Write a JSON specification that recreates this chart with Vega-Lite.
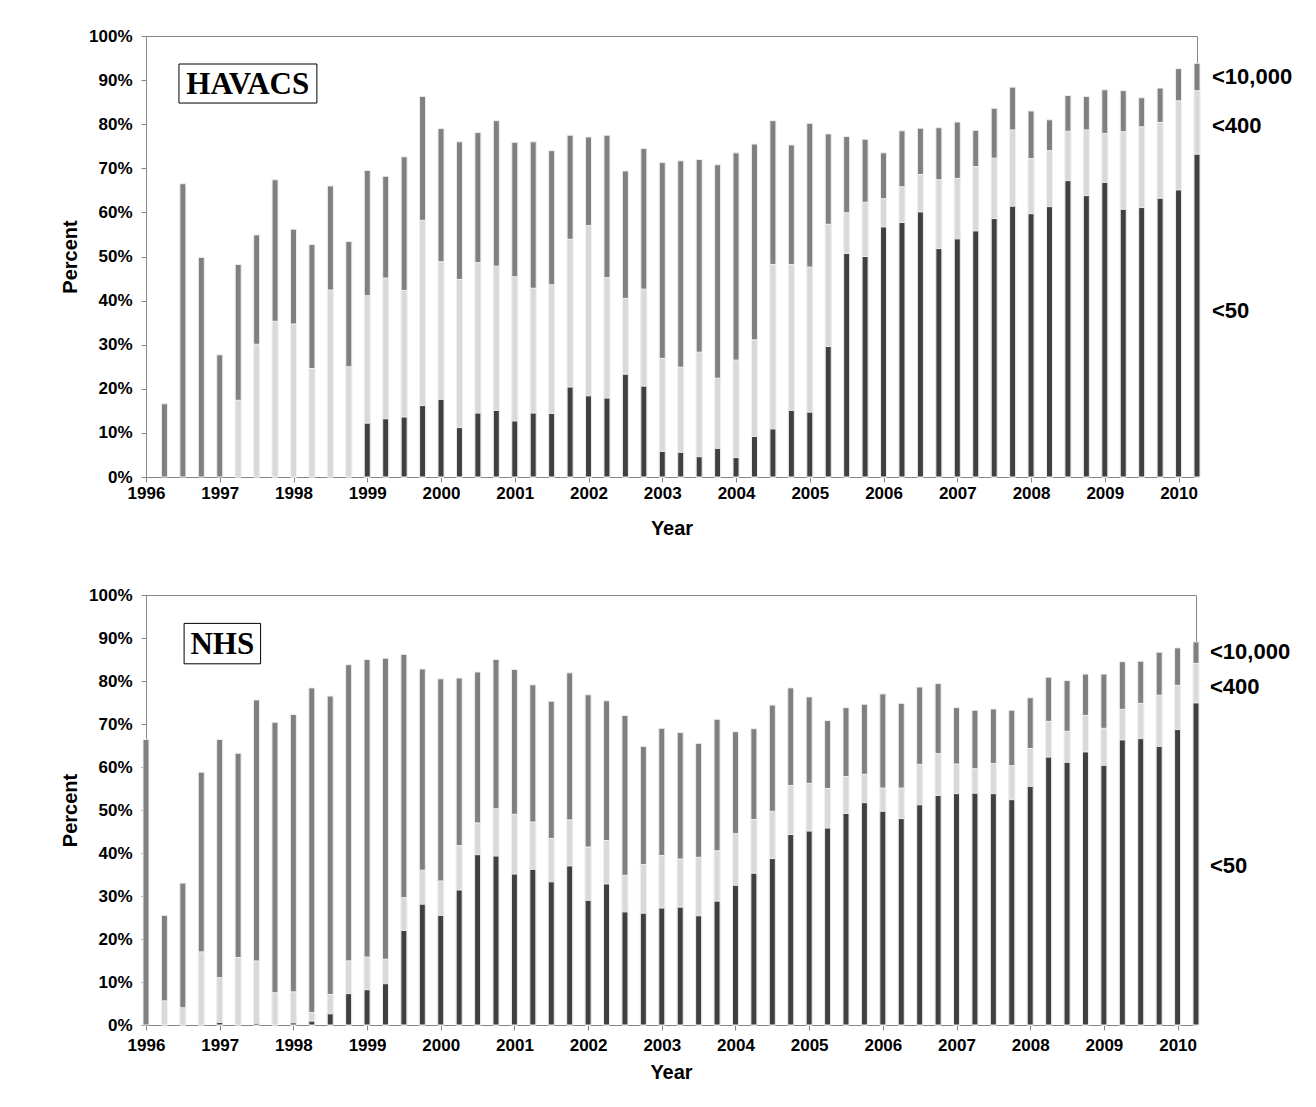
{
  "$schema": "https://vega.github.io/schema/vega-lite/v6.json",
  "background": "white",
  "padding": {"left": 60, "top": 26, "right": 5, "bottom": 5},
  "spacing": 46,
  "config": {
    "font": "Liberation Sans",
    "view": {"stroke": "#868686", "strokeWidth": 1},
    "axis": {
      "grid": false,
      "domainColor": "#868686",
      "tickColor": "#868686",
      "tickSize": 5,
      "labelFont": "Liberation Sans",
      "labelFontWeight": "bold",
      "labelFontSize": 17,
      "labelColor": "#000000",
      "titleFont": "Liberation Sans",
      "titleFontWeight": "bold",
      "titleFontSize": 20,
      "titleColor": "#000000",
      "zindex": 1
    }
  },
  "datasets": {
    "havacs": [
      {"t": 1996.25, "a": null, "b": null, "c": 16.6},
      {"t": 1996.5, "a": null, "b": null, "c": 66.5},
      {"t": 1996.75, "a": null, "b": null, "c": 49.8},
      {"t": 1997.0, "a": null, "b": null, "c": 27.7},
      {"t": 1997.25, "a": null, "b": 17.4, "c": 48.2},
      {"t": 1997.5, "a": null, "b": 30.1, "c": 54.9},
      {"t": 1997.75, "a": null, "b": 35.3, "c": 67.4},
      {"t": 1998.0, "a": null, "b": 34.7, "c": 56.2},
      {"t": 1998.25, "a": null, "b": 24.6, "c": 52.7},
      {"t": 1998.5, "a": null, "b": 42.4, "c": 66.0},
      {"t": 1998.75, "a": null, "b": 25.0, "c": 53.4},
      {"t": 1999.0, "a": 12.2, "b": 41.1, "c": 69.5},
      {"t": 1999.25, "a": 13.2, "b": 45.1, "c": 68.2},
      {"t": 1999.5, "a": 13.6, "b": 42.3, "c": 72.6},
      {"t": 1999.75, "a": 16.2, "b": 58.2, "c": 86.3},
      {"t": 2000.0, "a": 17.6, "b": 48.8, "c": 79.0},
      {"t": 2000.25, "a": 11.2, "b": 44.8, "c": 76.0},
      {"t": 2000.5, "a": 14.5, "b": 48.6, "c": 78.1},
      {"t": 2000.75, "a": 15.1, "b": 47.8, "c": 80.8},
      {"t": 2001.0, "a": 12.7, "b": 45.4, "c": 75.9},
      {"t": 2001.25, "a": 14.5, "b": 42.8, "c": 76.0},
      {"t": 2001.5, "a": 14.4, "b": 43.6, "c": 74.0},
      {"t": 2001.75, "a": 20.4, "b": 53.9, "c": 77.5},
      {"t": 2002.0, "a": 18.4, "b": 57.0, "c": 77.1},
      {"t": 2002.25, "a": 17.9, "b": 45.2, "c": 77.5},
      {"t": 2002.5, "a": 23.3, "b": 40.5, "c": 69.4},
      {"t": 2002.75, "a": 20.6, "b": 42.6, "c": 74.5},
      {"t": 2003.0, "a": 5.8, "b": 26.9, "c": 71.3},
      {"t": 2003.25, "a": 5.6, "b": 24.9, "c": 71.7},
      {"t": 2003.5, "a": 4.6, "b": 28.3, "c": 72.0},
      {"t": 2003.75, "a": 6.5, "b": 22.4, "c": 70.8},
      {"t": 2004.0, "a": 4.4, "b": 26.5, "c": 73.5},
      {"t": 2004.25, "a": 9.2, "b": 31.1, "c": 75.5},
      {"t": 2004.5, "a": 10.9, "b": 48.2, "c": 80.8},
      {"t": 2004.75, "a": 15.1, "b": 48.2, "c": 75.3},
      {"t": 2005.0, "a": 14.7, "b": 47.6, "c": 80.2},
      {"t": 2005.25, "a": 29.6, "b": 57.3, "c": 77.8},
      {"t": 2005.5, "a": 50.7, "b": 59.9, "c": 77.2},
      {"t": 2005.75, "a": 50.0, "b": 62.3, "c": 76.6},
      {"t": 2006.0, "a": 56.7, "b": 63.1, "c": 73.5},
      {"t": 2006.25, "a": 57.7, "b": 65.8, "c": 78.5},
      {"t": 2006.5, "a": 60.1, "b": 68.6, "c": 79.1},
      {"t": 2006.75, "a": 51.8, "b": 67.4, "c": 79.2},
      {"t": 2007.0, "a": 54.0, "b": 67.7, "c": 80.5},
      {"t": 2007.25, "a": 55.8, "b": 70.4, "c": 78.6},
      {"t": 2007.5, "a": 58.6, "b": 72.3, "c": 83.6},
      {"t": 2007.75, "a": 61.4, "b": 78.7, "c": 88.4},
      {"t": 2008.0, "a": 59.7, "b": 72.2, "c": 83.0},
      {"t": 2008.25, "a": 61.3, "b": 74.0, "c": 81.0},
      {"t": 2008.5, "a": 67.2, "b": 78.4, "c": 86.5},
      {"t": 2008.75, "a": 63.8, "b": 78.7, "c": 86.3},
      {"t": 2009.0, "a": 66.8, "b": 77.9, "c": 87.8},
      {"t": 2009.25, "a": 60.7, "b": 78.3, "c": 87.6},
      {"t": 2009.5, "a": 61.1, "b": 79.4, "c": 86.0},
      {"t": 2009.75, "a": 63.2, "b": 80.4, "c": 88.2},
      {"t": 2010.0, "a": 65.1, "b": 85.3, "c": 92.6},
      {"t": 2010.25, "a": 73.2, "b": 87.6, "c": 93.8}
    ],
    "nhs": [
      {"t": 1996.0, "a": null, "b": null, "c": 66.4},
      {"t": 1996.25, "a": null, "b": 5.6, "c": 25.5},
      {"t": 1996.5, "a": null, "b": 4.0, "c": 33.0},
      {"t": 1996.75, "a": null, "b": 17.0, "c": 58.8},
      {"t": 1997.0, "a": 0.6, "b": 11.0, "c": 66.4},
      {"t": 1997.25, "a": null, "b": 15.7, "c": 63.2},
      {"t": 1997.5, "a": 0.4, "b": 14.9, "c": 75.6},
      {"t": 1997.75, "a": null, "b": 7.5, "c": 70.4},
      {"t": 1998.0, "a": 0.5, "b": 7.7, "c": 72.2},
      {"t": 1998.25, "a": 0.9, "b": 2.9, "c": 78.4},
      {"t": 1998.5, "a": 2.6, "b": 7.1, "c": 76.5},
      {"t": 1998.75, "a": 7.3, "b": 14.9, "c": 83.8},
      {"t": 1999.0, "a": 8.2, "b": 15.8, "c": 85.0},
      {"t": 1999.25, "a": 9.6, "b": 15.3, "c": 85.3},
      {"t": 1999.5, "a": 22.0, "b": 29.6, "c": 86.2},
      {"t": 1999.75, "a": 28.1, "b": 36.0, "c": 82.8},
      {"t": 2000.0, "a": 25.5, "b": 33.5, "c": 80.5},
      {"t": 2000.25, "a": 31.4, "b": 41.7, "c": 80.7},
      {"t": 2000.5, "a": 39.6, "b": 47.0, "c": 82.1},
      {"t": 2000.75, "a": 39.3, "b": 50.3, "c": 85.0},
      {"t": 2001.0, "a": 35.1, "b": 49.0, "c": 82.7},
      {"t": 2001.25, "a": 36.2, "b": 47.2, "c": 79.1},
      {"t": 2001.5, "a": 33.3, "b": 43.4, "c": 75.3},
      {"t": 2001.75, "a": 37.0, "b": 47.7, "c": 81.9},
      {"t": 2002.0, "a": 29.0, "b": 41.4, "c": 76.8},
      {"t": 2002.25, "a": 32.8, "b": 42.9, "c": 75.4},
      {"t": 2002.5, "a": 26.3, "b": 34.8, "c": 72.0},
      {"t": 2002.75, "a": 26.0, "b": 37.3, "c": 64.8},
      {"t": 2003.0, "a": 27.2, "b": 39.4, "c": 69.0},
      {"t": 2003.25, "a": 27.4, "b": 38.6, "c": 68.0},
      {"t": 2003.5, "a": 25.4, "b": 39.0, "c": 65.5},
      {"t": 2003.75, "a": 28.8, "b": 40.5, "c": 71.1},
      {"t": 2004.0, "a": 32.5, "b": 44.5, "c": 68.2},
      {"t": 2004.25, "a": 35.3, "b": 47.8, "c": 68.9},
      {"t": 2004.5, "a": 38.7, "b": 49.7, "c": 74.4},
      {"t": 2004.75, "a": 44.3, "b": 55.7, "c": 78.4},
      {"t": 2005.0, "a": 45.1, "b": 56.2, "c": 76.3},
      {"t": 2005.25, "a": 45.8, "b": 55.0, "c": 70.8},
      {"t": 2005.5, "a": 49.2, "b": 57.8, "c": 73.8},
      {"t": 2005.75, "a": 51.7, "b": 58.3, "c": 74.6},
      {"t": 2006.0, "a": 49.7, "b": 55.1, "c": 77.0},
      {"t": 2006.25, "a": 48.0, "b": 55.1, "c": 74.8},
      {"t": 2006.5, "a": 51.2, "b": 60.6, "c": 78.6},
      {"t": 2006.75, "a": 53.4, "b": 63.1, "c": 79.4},
      {"t": 2007.0, "a": 53.8, "b": 60.7, "c": 73.8},
      {"t": 2007.25, "a": 53.9, "b": 59.6, "c": 73.2},
      {"t": 2007.5, "a": 53.8, "b": 60.8, "c": 73.5},
      {"t": 2007.75, "a": 52.4, "b": 60.3, "c": 73.2},
      {"t": 2008.0, "a": 55.5, "b": 64.3, "c": 76.1},
      {"t": 2008.25, "a": 62.3, "b": 70.6, "c": 80.9},
      {"t": 2008.5, "a": 61.1, "b": 68.3, "c": 80.1},
      {"t": 2008.75, "a": 63.5, "b": 72.0, "c": 81.6},
      {"t": 2009.0, "a": 60.4, "b": 69.0, "c": 81.6},
      {"t": 2009.25, "a": 66.3, "b": 73.4, "c": 84.5},
      {"t": 2009.5, "a": 66.6, "b": 74.8, "c": 84.6},
      {"t": 2009.75, "a": 64.8, "b": 76.7, "c": 86.7},
      {"t": 2010.0, "a": 68.7, "b": 79.0, "c": 87.7},
      {"t": 2010.25, "a": 74.9, "b": 84.1, "c": 89.1}
    ],
    "havacsLabels": [
      {"label": "<10,000", "v": 90.8},
      {"label": "<400", "v": 79.7},
      {"label": "<50", "v": 37.7}
    ],
    "nhsLabels": [
      {"label": "<10,000", "v": 86.8},
      {"label": "<400", "v": 78.5},
      {"label": "<50", "v": 37.0}
    ]
  },
  "vconcat": [
    {
      "width": 1051,
      "height": 441,
      "layer": [
        {
          "data": {"name": "havacs"},
          "mark": {"type": "bar", "size": 6, "color": "#808080", "stroke": "#eeeeee", "strokeWidth": 1},
          "encoding": {
            "x": {
              "field": "t", "type": "quantitative", "title": "Year",
              "scale": {"domain": [1996, 2010.25], "nice": false, "zero": false, "padding": 0},
              "axis": {
                "values": [1996, 1996.25, 1996.5, 1996.75, 1997, 1997.25, 1997.5, 1997.75, 1998, 1998.25, 1998.5, 1998.75, 1999, 1999.25, 1999.5, 1999.75, 2000, 2000.25, 2000.5, 2000.75, 2001, 2001.25, 2001.5, 2001.75, 2002, 2002.25, 2002.5, 2002.75, 2003, 2003.25, 2003.5, 2003.75, 2004, 2004.25, 2004.5, 2004.75, 2005, 2005.25, 2005.5, 2005.75, 2006, 2006.25, 2006.5, 2006.75, 2007, 2007.25, 2007.5, 2007.75, 2008, 2008.25, 2008.5, 2008.75, 2009, 2009.25, 2009.5, 2009.75, 2010, 2010.25],
                "format": "d",
                "labelExpr": "datum.value % 1 === 0 ? datum.label : ''",
                "labelFlush": false,
                "labelOverlap": false,
                "labelPadding": 3,
                "titlePadding": 17
              }
            },
            "y": {
              "field": "c", "type": "quantitative", "title": "Percent",
              "scale": {"domain": [0, 100], "nice": false},
              "axis": {
                "values": [0, 10, 20, 30, 40, 50, 60, 70, 80, 90, 100],
                "labelExpr": "datum.value + '%'",
                "labelPadding": 9,
                "titlePadding": 8
              }
            }
          }
        },
        {
          "data": {"name": "havacs"},
          "mark": {"type": "bar", "size": 6, "color": "#d9d9d9", "stroke": "#f2f2f2", "strokeWidth": 1},
          "encoding": {
            "x": {"field": "t", "type": "quantitative", "title": "Year"},
            "y": {"field": "b", "type": "quantitative", "title": "Percent"}
          }
        },
        {
          "data": {"name": "havacs"},
          "mark": {"type": "bar", "size": 6, "color": "#404040", "stroke": "#eeeeee", "strokeWidth": 1},
          "encoding": {
            "x": {"field": "t", "type": "quantitative", "title": "Year"},
            "y": {"field": "a", "type": "quantitative", "title": "Percent"}
          }
        },
        {
          "data": {"values": [{}]},
          "mark": {"type": "rect", "fill": "#ffffff", "stroke": "#000000", "strokeWidth": 1},
          "encoding": {
            "x": {"datum": 1996.447, "type": "quantitative", "title": "Year"},
            "x2": {"datum": 1998.317},
            "y": {"datum": 93.65, "type": "quantitative", "title": "Percent"},
            "y2": {"datum": 84.8}
          }
        },
        {
          "data": {"values": [{}]},
          "mark": {"type": "text", "font": "Liberation Serif", "fontWeight": "bold", "fontSize": 31, "color": "#000000", "baseline": "middle", "align": "center", "dy": 1},
          "encoding": {
            "x": {"datum": 1997.38, "type": "quantitative", "title": "Year"},
            "y": {"datum": 89.2, "type": "quantitative", "title": "Percent"},
            "text": {"value": "HAVACS"}
          }
        },
        {
          "data": {"name": "havacsLabels"},
          "mark": {"type": "text", "font": "Liberation Sans", "fontWeight": "bold", "fontSize": 22, "color": "#000000", "align": "left", "baseline": "middle", "dx": 15},
          "encoding": {
            "x": {"datum": 2010.25, "type": "quantitative", "title": "Year"},
            "y": {"field": "v", "type": "quantitative", "title": "Percent"},
            "text": {"field": "label"}
          }
        }
      ]
    },
    {
      "width": 1050,
      "height": 430,
      "layer": [
        {
          "data": {"name": "nhs"},
          "mark": {"type": "bar", "size": 6, "color": "#808080", "stroke": "#eeeeee", "strokeWidth": 1},
          "encoding": {
            "x": {
              "field": "t", "type": "quantitative", "title": "Year",
              "scale": {"domain": [1996, 2010.25], "nice": false, "zero": false, "padding": 0},
              "axis": {
                "values": [1996, 1996.25, 1996.5, 1996.75, 1997, 1997.25, 1997.5, 1997.75, 1998, 1998.25, 1998.5, 1998.75, 1999, 1999.25, 1999.5, 1999.75, 2000, 2000.25, 2000.5, 2000.75, 2001, 2001.25, 2001.5, 2001.75, 2002, 2002.25, 2002.5, 2002.75, 2003, 2003.25, 2003.5, 2003.75, 2004, 2004.25, 2004.5, 2004.75, 2005, 2005.25, 2005.5, 2005.75, 2006, 2006.25, 2006.5, 2006.75, 2007, 2007.25, 2007.5, 2007.75, 2008, 2008.25, 2008.5, 2008.75, 2009, 2009.25, 2009.5, 2009.75, 2010, 2010.25],
                "format": "d",
                "labelExpr": "datum.value % 1 === 0 ? datum.label : ''",
                "labelFlush": false,
                "labelOverlap": false,
                "labelPadding": 7,
                "titlePadding": 9
              }
            },
            "y": {
              "field": "c", "type": "quantitative", "title": "Percent",
              "scale": {"domain": [0, 100], "nice": false},
              "axis": {
                "values": [0, 10, 20, 30, 40, 50, 60, 70, 80, 90, 100],
                "labelExpr": "datum.value + '%'",
                "labelPadding": 9,
                "titlePadding": 8
              }
            }
          }
        },
        {
          "data": {"name": "nhs"},
          "mark": {"type": "bar", "size": 6, "color": "#d9d9d9", "stroke": "#f2f2f2", "strokeWidth": 1},
          "encoding": {
            "x": {"field": "t", "type": "quantitative", "title": "Year"},
            "y": {"field": "b", "type": "quantitative", "title": "Percent"}
          }
        },
        {
          "data": {"name": "nhs"},
          "mark": {"type": "bar", "size": 6, "color": "#404040", "stroke": "#eeeeee", "strokeWidth": 1},
          "encoding": {
            "x": {"field": "t", "type": "quantitative", "title": "Year"},
            "y": {"field": "a", "type": "quantitative", "title": "Percent"}
          }
        },
        {
          "data": {"values": [{}]},
          "mark": {"type": "rect", "fill": "#ffffff", "stroke": "#000000", "strokeWidth": 1},
          "encoding": {
            "x": {"datum": 1996.517, "type": "quantitative", "title": "Year"},
            "x2": {"datum": 1997.555},
            "y": {"datum": 93.4, "type": "quantitative", "title": "Percent"},
            "y2": {"datum": 84.0}
          }
        },
        {
          "data": {"values": [{}]},
          "mark": {"type": "text", "font": "Liberation Serif", "fontWeight": "bold", "fontSize": 31, "color": "#000000", "baseline": "middle", "align": "center", "dy": 1},
          "encoding": {
            "x": {"datum": 1997.036, "type": "quantitative", "title": "Year"},
            "y": {"datum": 88.7, "type": "quantitative", "title": "Percent"},
            "text": {"value": "NHS"}
          }
        },
        {
          "data": {"name": "nhsLabels"},
          "mark": {"type": "text", "font": "Liberation Sans", "fontWeight": "bold", "fontSize": 22, "color": "#000000", "align": "left", "baseline": "middle", "dx": 14},
          "encoding": {
            "x": {"datum": 2010.25, "type": "quantitative", "title": "Year"},
            "y": {"field": "v", "type": "quantitative", "title": "Percent"},
            "text": {"field": "label"}
          }
        }
      ]
    }
  ]
}
